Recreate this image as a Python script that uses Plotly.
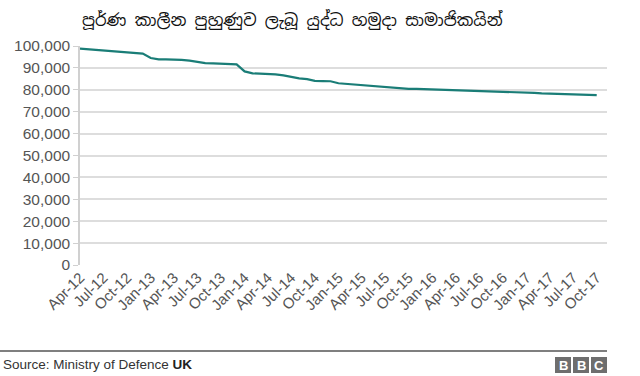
import plotly.graph_objects as go
import pandas as pd

title_text = "පූර්ණ කාලීන පුහුණුව ලැබූ යුද්ධ හමුදා සාමාජිකයින්"
start_month = "2012-04-01"
personnel = [
    98800, 98500, 98100, 97800, 97600, 97300, 97100, 96800, 96500, 94500,
    93900, 93900, 93900, 93700, 93300, 92600, 92200, 92100, 92000, 91800,
    91600, 88400, 87500, 87400, 87300, 87000, 86600, 85800, 85200, 84900,
    84100, 84000, 83900, 83000, 82700, 82400, 82100, 81800, 81500, 81200,
    80900, 80600, 80400, 80400, 80300, 80200, 80000, 79800, 79700, 79500,
    79400, 79400, 79300, 79200, 79000, 78900, 78800, 78700, 78600, 78400,
    78300, 78200, 78100, 78000, 77900, 77800, 77600,
]
months = pd.date_range(start_month, periods=len(personnel), freq="MS")
y_ticks = list(range(0, 100001, 10000))

W, H = 640, 376
L, R, T, B = 80, 607, 46, 265


def px(x):
    return (x - L) / (R - L)


def py(y):
    return (B - y) / (B - T)


fig = go.Figure()
fig.add_trace(go.Scatter(
    x=months, y=personnel, mode="lines",
    line=dict(color="#1a7d77", width=2.2), hoverinfo="skip",
))

fig.update_layout(
    width=W, height=H,
    margin=dict(l=L, r=W - R, t=T, b=H - B),
    paper_bgcolor="white", plot_bgcolor="white",
    showlegend=False,
    font=dict(family="Liberation Sans, Arial, sans-serif", color="#555555"),
)
fig.update_xaxes(
    type="date", range=["2012-04-01", "2017-11-10"],
    tickmode="linear", tick0="2012-04-01", dtick="M3", tickformat="%b-%y",
    tickangle=-45, tickfont=dict(size=15, color="#555555"),
    showgrid=False, showline=False, ticks="", zeroline=False,
)
fig.update_yaxes(
    range=[0, 100000], tickvals=y_ticks, tickformat=",",
    tickfont=dict(size=15.5, color="#555555"),
    showgrid=True, gridcolor="#dddddd", gridwidth=1.5,
    showline=True, linecolor="#d0d0d0", linewidth=1.5,
    ticks="outside", ticklen=5, tickcolor="#d0d0d0", zeroline=False,
)

# title
fig.add_annotation(
    x=px(292), y=py(20), xref="paper", yref="paper", showarrow=False,
    text=title_text, xanchor="center", yanchor="middle",
    font=dict(size=16.5, color="#111111",
              family="Noto Sans Sinhala, Iskoola Pota, Noto Sans, sans-serif"),
)

# footer line
fig.add_shape(type="line", xref="paper", yref="paper",
              x0=px(0), x1=px(607), y0=py(351), y1=py(351),
              line=dict(color="#555555", width=1.5))
fig.add_annotation(
    x=px(1), y=py(364), xref="paper", yref="paper", showarrow=False,
    xanchor="left", yanchor="middle",
    text="Source: Ministry of Defence <b style='color:#222'>UK</b>",
    font=dict(size=13.5, color="#333333"),
)
# BBC blocks
for i, letter in enumerate("BBC"):
    x0 = 555 + i * 18
    fig.add_shape(type="rect", xref="paper", yref="paper",
                  x0=px(x0), x1=px(x0 + 16), y0=py(373), y1=py(357),
                  fillcolor="#6e6e6e", line=dict(width=0))
    fig.add_annotation(
        x=px(x0 + 8), y=py(365), xref="paper", yref="paper", showarrow=False,
        text="<b>%s</b>" % letter, xanchor="center", yanchor="middle",
        font=dict(size=13, color="white"),
    )

fig.write_html(
    "out.html",
    config={"displayModeBar": False},
    post_script="document.body.style.margin='0';document.body.style.padding='0';",
)
